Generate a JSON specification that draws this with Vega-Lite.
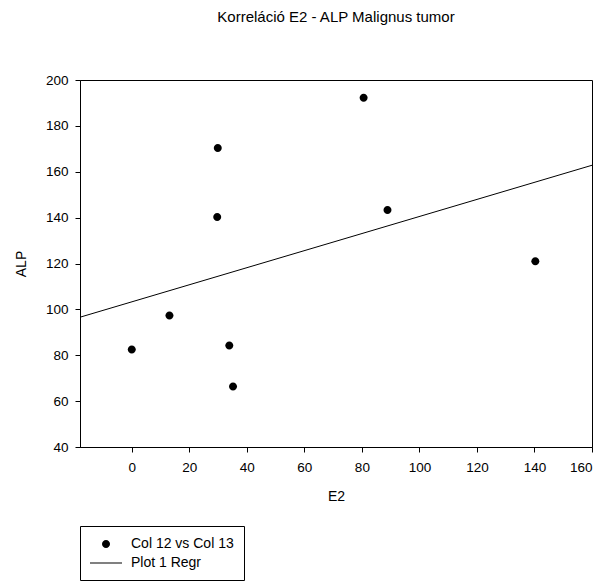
{
  "$schema": "https://vega.github.io/schema/vega-lite/v6.json",
  "width": 512,
  "height": 367,
  "autosize": "none",
  "padding": {"left": 80, "top": 80, "right": 13, "bottom": 137},
  "background": "white",
  "title": {
    "text": "Korreláció E2 - ALP Malignus tumor",
    "anchor": "middle",
    "font": "Liberation Sans",
    "fontSize": 15,
    "fontWeight": "normal",
    "color": "black",
    "offset": 48
  },
  "config": {
    "view": {"stroke": "black", "strokeWidth": 1},
    "axis": {
      "grid": false,
      "domainColor": "black",
      "tickColor": "black",
      "tickSize": 5,
      "labelFont": "Liberation Sans",
      "labelFontSize": 13.5,
      "labelColor": "black",
      "titleFont": "Liberation Sans",
      "titleFontSize": 14,
      "titleFontWeight": "normal",
      "titleColor": "black"
    },
    "legend": {
      "labelFont": "Liberation Sans",
      "labelFontSize": 14,
      "labelColor": "black"
    }
  },
  "data": {
    "values": [
      {"e2": 0, "alp": 82.5},
      {"e2": 13.1, "alp": 97.3},
      {"e2": 29.9, "alp": 170.3},
      {"e2": 29.7, "alp": 140.3},
      {"e2": 33.9, "alp": 84.2},
      {"e2": 35.2, "alp": 66.4},
      {"e2": 80.6, "alp": 192.3},
      {"e2": 88.9, "alp": 143.3},
      {"e2": 140.3, "alp": 121}
    ]
  },
  "encoding": {
    "x": {
      "field": "e2",
      "type": "quantitative",
      "title": "E2",
      "scale": {"domain": [-18, 160], "nice": false, "zero": false},
      "axis": {"values": [0, 20, 40, 60, 80, 100, 120, 140, 160], "labelPadding": 8, "titlePadding": 16}
    },
    "y": {
      "field": "alp",
      "type": "quantitative",
      "title": "ALP",
      "scale": {"domain": [40, 200], "nice": false, "zero": false},
      "axis": {"values": [40, 60, 80, 100, 120, 140, 160, 180, 200], "labelPadding": 7, "titlePadding": 17}
    }
  },
  "layer": [
    {
      "mark": {"type": "point", "filled": true, "color": "black", "opacity": 1, "size": 256, "strokeWidth": 0},
      "encoding": {
        "shape": {
          "datum": "Col 12 vs Col 13",
          "type": "nominal",
          "scale": {
            "domain": ["Col 12 vs Col 13", "Plot 1 Regr"],
            "range": [
              "M-0.5,0A0.5,0.5 0 1,1 0.5,0A0.5,0.5 0 1,1 -0.5,0Z",
              "M-2,-0.0625H2V0.0625H-2Z"
            ]
          },
          "legend": {
            "title": null,
            "orient": "none",
            "legendX": 0,
            "legendY": 446,
            "padding": 10,
            "strokeColor": "black",
            "fillColor": "white",
            "symbolSize": 256,
            "symbolOffset": 8,
            "symbolFillColor": "black",
            "symbolStrokeWidth": 0,
            "symbolOpacity": 1,
            "labelOffset": 17,
            "rowPadding": 4,
            "encode": {
              "symbols": {
                "update": {
                  "fill": {"value": "black"},
                  "strokeWidth": {"value": 0},
                  "opacity": {"value": 1}
                }
              }
            }
          }
        }
      }
    },
    {
      "transform": [{"regression": "alp", "on": "e2", "extent": [-18, 160]}],
      "mark": {"type": "line", "color": "black", "strokeWidth": 1, "clip": true},
      "encoding": {}
    }
  ]
}
